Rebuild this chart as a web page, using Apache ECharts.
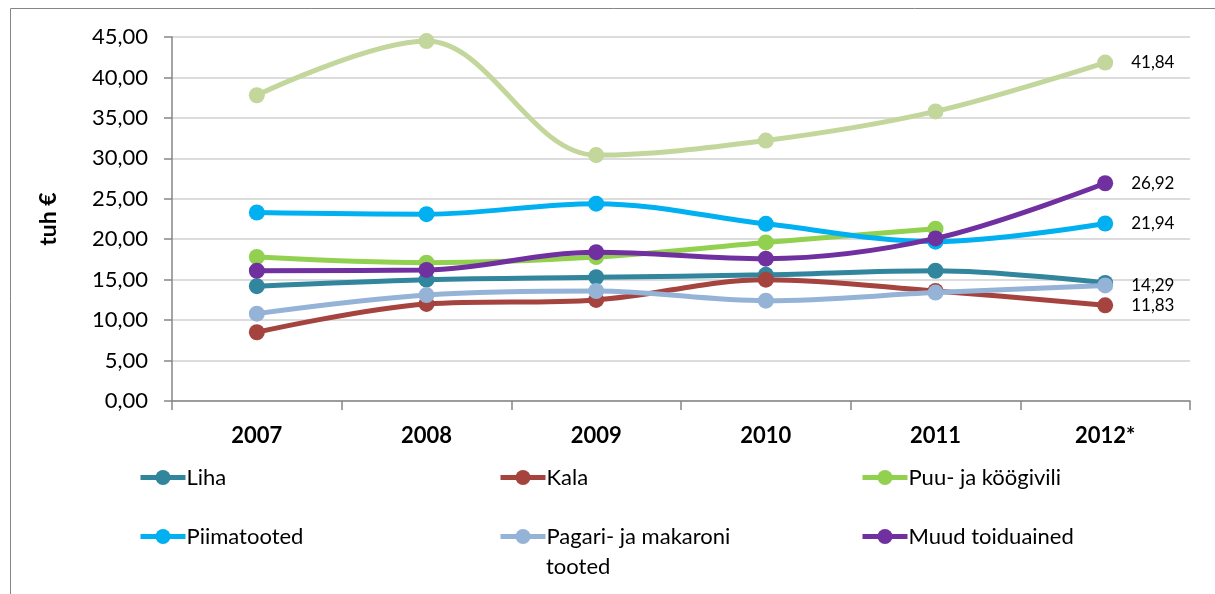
<!DOCTYPE html>
<html>
<head>
<meta charset="utf-8">
<script src="https://cdn.jsdelivr.net/npm/echarts@6/dist/echarts.min.js"></script>
<style>
html,body{margin:0;padding:0;background:#fff;}
#chart{width:1215px;height:594px;}
</style>
</head>
<body>
<div id="chart"></div>
<script>
const categories = ['2007','2008','2009','2010','2011','2012*'];
const liha = [14.2, 15.0, 15.3, 15.6, 16.1, 14.6];
const kala = [8.5, 12.0, 12.5, 15.0, 13.6, 11.83];
const puuKoogivili = [17.8, 17.1, 17.8, 19.6, 21.3, null];
const piimatooted = [23.3, 23.1, 24.4, 21.9, 19.7, 21.94];
const pagari = [10.8, 13.1, 13.6, 12.4, 13.4, 14.29];
const muud = [16.1, 16.2, 18.4, 17.6, 20.1, 26.92];
const muu2 = [37.8, 44.5, 30.4, 32.2, 35.8, 41.84];
const yTicks = {min: 0, max: 45, interval: 5};

const FONT = 'Lato, "Liberation Sans", sans-serif';
const fmt = v => v.toFixed(2).replace('.', ',');

function mk(name, data, color, showEndLabel, z) {
  return {
    name: name,
    type: 'line',
    data: data,
    smooth: 0.35,
    symbol: 'circle',
    symbolSize: 16,
    z: z,
    lineStyle: {width: 5, color: color},
    itemStyle: {color: color},
    label: {
      show: showEndLabel,
      position: 'right',
      distance: 18,
      color: '#000',
      fontFamily: FONT,
      fontSize: 17,
      formatter: p => (p.dataIndex === data.length - 1 ? fmt(p.value) : '')
    },
    emphasis: {disabled: true}
  };
}

const chart = echarts.init(document.getElementById('chart'));
function leg(name, left, top, label) {
  return {
    left: left, top: top,
    data: [name],
    itemWidth: 45,
    itemHeight: 19,
    selectedMode: false,
    lineStyle: {width: 5},
    textStyle: {fontFamily: FONT, fontSize: 22, color: '#000', lineHeight: 33, padding: [0,0,0,-4]},
    formatter: () => label
  };
}
chart.setOption({
  animation: false,
  backgroundColor: '#fff',
  graphic: [{
    type: 'rect',
    shape: {x: 10.5, y: 8.5, width: 1220, height: 600},
    style: {fill: null, stroke: '#868686', lineWidth: 1},
    silent: true
  }, {
    type: 'text',
    left: 546, top: 556,
    style: {text: 'tooted', fontFamily: FONT, fontSize: 22, fill: '#000'},
    silent: true
  }],
  legend: [
    leg('Liha', 133, 456, 'Liha'),
    leg('Kala', 493, 456, 'Kala'),
    leg('Puu- ja köögivili', 855, 456, 'Puu- ja köögivili'),
    leg('Piimatooted', 133, 515, 'Piimatooted'),
    leg('Pagari- ja makaroni tooted', 493, 515, 'Pagari- ja makaroni'),
    leg('Muud toiduained', 855, 515, 'Muud toiduained')
  ],
  grid: {left: 172, right: 25, top: 37, bottom: 193, containLabel: false},
  xAxis: {
    type: 'category',
    data: categories,
    boundaryGap: true,
    axisLine: {lineStyle: {color: '#868686', width: 1.5}},
    axisTick: {show: true, length: 9, lineStyle: {color: '#868686', width: 1.5}},
    axisLabel: {fontFamily: FONT, fontSize: 22, fontWeight: 'bold', color: '#000', margin: 24},
    splitLine: {show: false}
  },
  yAxis: {
    type: 'value',
    min: yTicks.min, max: yTicks.max, interval: yTicks.interval,
    name: 'tuh €',
    nameLocation: 'middle',
    nameGap: 112,
    nameRotate: 90,
    nameTextStyle: {fontFamily: FONT, fontSize: 23, fontWeight: 'bold', color: '#000'},
    axisLine: {show: true, lineStyle: {color: '#868686', width: 1.5}},
    axisTick: {show: true, length: 8, lineStyle: {color: '#868686', width: 1.5}},
    axisLabel: {fontFamily: FONT, fontSize: 22, color: '#000', margin: 24, formatter: v => fmt(v)},
    splitLine: {lineStyle: {color: '#D0D0D0', width: 1.5}}
  },
  series: [
    mk('Liha', liha, '#31859C', false, 3),
    mk('Kala', kala, '#A5433F', true, 4),
    mk('Puu- ja köögivili', puuKoogivili, '#92D050', false, 5),
    mk('Piimatooted', piimatooted, '#00B0F0', true, 6),
    mk('Pagari- ja makaroni tooted', pagari, '#95B3D7', true, 7),
    mk('Muud toiduained', muud, '#7030A0', true, 8),
    mk('Muud (2)', muu2, '#C3D69B', true, 2)
  ]
});
</script>
</body>
</html>
